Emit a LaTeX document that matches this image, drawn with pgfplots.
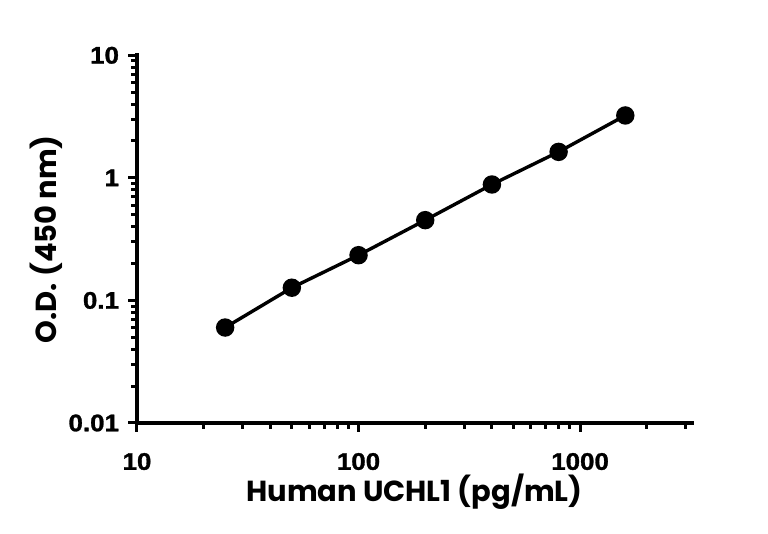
\documentclass[border=0pt]{standalone}
\usepackage{fontspec}
\setmainfont{Poppins}
\newfontfamily\tickfont[FakeStretch=1.08,FakeBold=1.2]{Liberation Sans Bold}
\usepackage{pgfplots}
\pgfplotsset{compat=1.18}
\begin{document}
\begin{tikzpicture}
\begin{axis}[
  at={(0pt,0pt)}, anchor=south west,
  scale only axis,
  width=277.5pt, height=183.85pt,
  xmode=log, ymode=log,
  xmin=10, xmax=3200, ymin=0.01, ymax=10,
  axis x line*=bottom, axis y line*=left,
  axis line style={line width=2pt, line cap=rect},
  tick align=outside,
  major tick length=4.5pt, minor tick length=3pt,
  every tick/.style={black, line width=1.5pt},
  xtick={10,100,1000},
  xticklabels={10,100,1000},
  ytick={0.01,0.1,1,10},
  yticklabels={0.01,0.1,1,10},
  minor xtick={20,30,40,50,60,70,80,90,200,300,400,500,600,700,800,900,2000,3000},
  minor ytick={0.02,0.03,0.04,0.05,0.06,0.07,0.08,0.09,0.2,0.3,0.4,0.5,0.6,0.7,0.8,0.9,2,3,4,5,6,7,8,9},
  xticklabel style={font=\fontsize{12}{13}\tickfont, yshift=-7pt},
  yticklabel style={font=\fontsize{12}{13}\tickfont, xshift=-1pt},
  xlabel={\textbf{Human UCHL1 (pg/mL)}},
  ylabel={\textbf{O.D. (450 nm)}},
  label style={font=\fontsize{14.5}{16}\selectfont},
  xlabel style={yshift=5pt},
  ylabel style={yshift=-4pt},
  clip=false,
]
\addplot[black, line width=1.7pt, mark=*, mark size=3.75pt, mark options={solid, fill=black}]
coordinates {
(25,0.0601) (50,0.127) (100,0.234) (200,0.452) (400,0.883) (800,1.63) (1600,3.23)
};
\end{axis}
\useasboundingbox (-68.5pt,-55.5pt) rectangle (315.5pt,211.5pt);
\end{tikzpicture}
\end{document}
